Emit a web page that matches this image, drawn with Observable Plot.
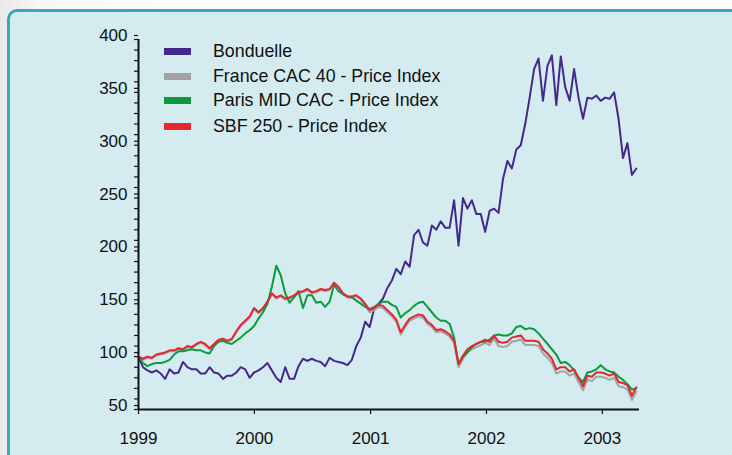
<!DOCTYPE html>
<html>
<head>
<meta charset="utf-8">
<script src="https://cdn.jsdelivr.net/npm/d3@7"></script>
<script src="https://cdn.jsdelivr.net/npm/@observablehq/plot@0.6"></script>
<style>
  html, body { margin: 0; padding: 0; }
  body { width: 732px; height: 455px; overflow: hidden; position: relative;
         background: linear-gradient(90deg, #e9e9e9 0px, #f7f7f7 40px, #ffffff 200px);
         font-family: "Liberation Sans", Arial, Helvetica, sans-serif; }
  #panel { position: absolute; left: 7px; top: 9px; width: 760px; height: 480px;
           box-sizing: border-box; border: 3px solid #38a8b8; border-radius: 10px;
           background: #d4ecf0; }
  #chart { position: absolute; left: 0; top: 0; }
  #legend { position: absolute; left: 164px; top: 40px; font-size: 17.8px; color: #111; }
  .row { position: absolute; left: 0; height: 24px; white-space: nowrap; }
  .sw { position: absolute; left: 0; width: 27px; height: 7px; }
  .lb { position: absolute; left: 49px; line-height: 20px; }
</style>
</head>
<body>
<div id="panel"></div>
<div id="chart"></div>
<div id="legend"></div>
<script>
// ---- Data (biweekly samples, base 1999-01-01 = 100) ----
const seriesNames = ["Bonduelle", "France CAC 40 - Price Index", "Paris MID CAC - Price Index", "SBF 250 - Price Index"];
const seriesColors = ["#46288c", "#a3a3a3", "#0c9a3c", "#e2272f"];

const bonduelle = [
100,90,87,85,87,84,79,88,84,85,95,90,88,88,84,84,90,85,84,79,
82,82,85,90,88,80,85,87,90,94,87,80,76,90,79,79,91,98,96,98,
96,95,91,99,96,95,94,92,97,110,118,133,128,145,150,155,165,172,183,178,
190,185,215,220,208,205,224,220,228,222,222,248,205,250,240,248,235,235,218,238,
240,236,268,285,278,296,300,320,345,372,382,342,375,385,338,384,355,342,372,345,
325,345,344,347,342,345,344,350,325,288,302,272,278];

const sbf250 = [
100,98,100,99,102,103,104,106,106,108,107,110,109,112,114,112,108,112,116,117,
115,117,124,130,134,138,146,142,146,152,160,156,158,155,156,158,161,162,164,161,
162,164,163,164,170,166,160,157,157,158,155,150,144,146,149,148,144,140,135,123,
130,136,138,140,139,133,130,125,126,124,121,115,93,101,107,110,112,114,116,114,
120,114,113,114,118,119,120,115,115,115,114,107,103,98,88,90,90,86,88,80,
72,82,81,85,85,84,82,84,76,75,73,63,71];

const cac40 = [
100,97,99,98,101,102,103,105,105,107,106,109,108,111,113,111,107,111,115,116,
114,116,123,129,133,137,145,141,145,151,159,155,157,154,155,157,160,161,163,160,
161,163,162,163,169,165,159,156,156,157,154,148,142,144,147,146,142,138,133,121,
128,134,136,138,137,131,128,123,124,122,119,113,90,98,104,107,109,111,113,111,
117,110,109,110,114,115,116,111,111,111,110,103,99,94,84,86,86,82,84,76,
68,78,77,81,81,80,78,80,72,71,69,59,67];

const midcac = [
100,94,91,93,94,94,95,97,102,105,105,106,107,106,106,104,103,110,114,115,
113,112,115,118,122,125,129,136,142,150,166,186,177,160,151,156,162,146,158,158,
151,152,147,152,168,162,159,157,156,153,150,147,145,147,150,152,152,149,147,137,
141,144,148,151,152,147,142,137,134,134,131,118,93,100,104,109,112,114,114,116,
120,121,120,120,122,128,129,126,127,126,122,117,112,107,102,94,95,92,87,80,
76,85,86,88,92,88,86,85,81,78,74,69,70];

const yearTicks = ["1999-01-01", "2000-01-01", "2001-01-01", "2002-01-01", "2003-01-01"];
const yLabelTicks = [50, 100, 150, 200, 250, 300, 350, 400];

// ---- Build table ----
const start = new Date(Date.UTC(1999, 0, 1));
const dates = d3.utcDay.range(start, new Date(Date.UTC(2003, 3, 25)), 14);
const valueLists = [bonduelle, cac40, midcac, sbf250];
const table = valueLists.flatMap((vals, k) =>
  vals.map((v, i) => ({date: dates[i], value: v, series: seriesNames[k]})));

const yearDates = yearTicks.map(s => new Date(s + "T00:00:00Z"));
const minorTicks = d3.range(50, 401, 10);

const lineFor = (k) => Plot.line(table.filter(d => d.series === seriesNames[k]),
  {x: "date", y: "value", stroke: seriesColors[k], strokeWidth: 2, strokeLinejoin: "round"});

const chart = Plot.plot({
  width: 732,
  height: 455,
  marginLeft: 138,
  marginRight: 93,
  marginTop: 39,
  marginBottom: 46,
  style: {background: "transparent", fontSize: "17px", fontFamily: "'Liberation Sans', Arial, Helvetica, sans-serif", color: "#111"},
  x: {type: "utc", domain: [start, new Date(Date.UTC(2003, 3, 28))], label: null},
  y: {domain: [50, 400], label: null},
  marks: [
    lineFor(0),
    lineFor(1),
    lineFor(2),
    lineFor(3),
    Plot.axisY(minorTicks, {tickSize: 4, tickFormat: () => "", strokeWidth: 1.2, label: null}),
    Plot.axisY(yLabelTicks, {tickSize: 4, tickPadding: 7, dy: -4, strokeWidth: 1.2, fontSize: 17, label: null}),
    Plot.axisX(yearDates, {tickSize: 5, tickPadding: 17, tickFormat: d3.utcFormat("%Y"), strokeWidth: 1.2, fontSize: 17, label: null}),
    Plot.ruleY([50], {stroke: "#111", strokeWidth: 2}),
    Plot.ruleX([start], {y1: 50, y2: 400, stroke: "#111", strokeWidth: 2})
  ]
});
document.getElementById("chart").appendChild(chart);

// ---- Legend ----
const legend = document.getElementById("legend");
const rowTops = [0, 24.5, 49, 74.5];
seriesNames.forEach((name, k) => {
  const row = document.createElement("div");
  row.className = "row";
  row.style.top = rowTops[k] + "px";
  const sw = document.createElement("div");
  sw.className = "sw";
  sw.style.background = seriesColors[k];
  sw.style.top = "8px";
  const lb = document.createElement("div");
  lb.className = "lb";
  lb.style.top = "1px";
  lb.textContent = name;
  row.appendChild(sw);
  row.appendChild(lb);
  legend.appendChild(row);
});
</script>
</body>
</html>
